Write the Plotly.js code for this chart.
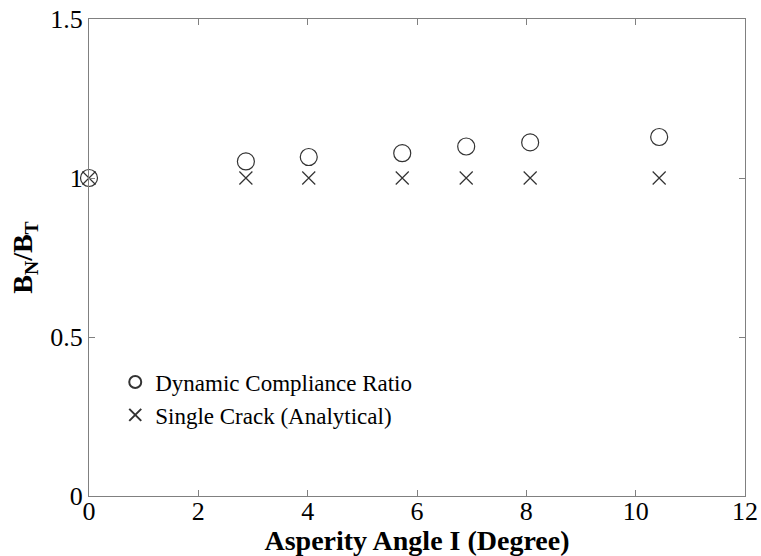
<!DOCTYPE html>
<html>
<head>
<meta charset="utf-8">
<script src="https://cdn.plot.ly/plotly-3.0.1.min.js"></script>
<style>html,body{margin:0;padding:0;background:#fff;}#chart{width:761px;height:556px;}</style>
</head>
<body>
<div id="chart"></div>
<script>
const angles = [0, 2.87, 4.02, 5.73, 6.90, 8.07, 10.43];
const dynamicRatio = [1.0, 1.052, 1.066, 1.078, 1.099, 1.112, 1.129];
const singleCrack = [1, 1, 1, 1, 1, 1, 1];
const names = ['Dynamic Compliance Ratio', 'Single Crack (Analytical)'];
const xTicks = [0, 2, 4, 6, 8, 10, 12];
const yTicks = [0, 0.5, 1, 1.5];
const yTickText = ['0', '0.5', '1', '1.5'];

const serif = "'Liberation Serif', 'Times New Roman', serif";
const traces = [
  {x: angles, y: dynamicRatio, mode: 'markers', type: 'scatter', name: names[0], cliponaxis: false,
   marker: {symbol: 'circle-open', size: 17, color: '#333', line: {width: 1.2, color: '#333'}}},
  {x: angles, y: singleCrack, mode: 'markers', type: 'scatter', name: names[1], cliponaxis: false,
   marker: {symbol: 'x-thin-open', size: 13, color: '#333', line: {width: 1.2, color: '#333'}}}
];
const axisCommon = {
  showgrid: false, zeroline: false, showline: true, linecolor: '#808080', linewidth: 1,
  mirror: 'ticks', ticks: 'inside', ticklen: 6, tickcolor: '#808080',
  tickfont: {family: serif, size: 26, color: '#000'}
};
const layout = {
  width: 761, height: 556,
  margin: {l: 89, r: 16, t: 19, b: 60},
  paper_bgcolor: '#fff', plot_bgcolor: '#fff',
  showlegend: true,
  legend: {x: 0.04, y: 0.284, xanchor: 'left', yanchor: 'top', bgcolor: 'rgba(0,0,0,0)',
           font: {family: serif, size: 23, color: '#000'}, itemsizing: 'constant', tracegroupgap: 0},
  xaxis: Object.assign({}, axisCommon, {range: [0, 12], tickvals: xTicks, ticklabelstandoff: -8,
    title: {text: '<b>Asperity Angle I (Degree)</b>', font: {family: serif, size: 28, color: '#000'}, standoff: 0}}),
  yaxis: Object.assign({}, axisCommon, {range: [0, 1.5], tickvals: yTicks, ticktext: yTickText, ticklabelstandoff: 0,
    title: {text: '<b>B<sub>N</sub>/B<sub>T</sub></b>', font: {family: serif, size: 28, color: '#000'}, standoff: 9}})
};
Plotly.newPlot('chart', traces, layout, {displayModeBar: false, staticPlot: true});
</script>
</body>
</html>
